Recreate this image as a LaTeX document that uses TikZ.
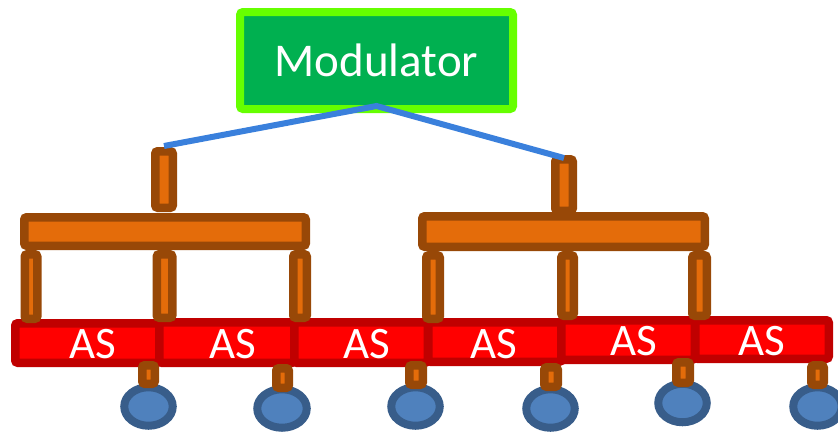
\documentclass[tikz,border=0pt]{standalone}
\usepackage{fontspec}
\setmainfont{Carlito}
\usetikzlibrary{shapes.geometric}

\definecolor{modfill}{HTML}{00B050}
\definecolor{modline}{HTML}{66FF00}
\definecolor{orangefill}{HTML}{E46C0A}
\definecolor{brownline}{HTML}{984807}
\definecolor{asfill}{HTML}{FF0000}
\definecolor{asline}{HTML}{C00000}
\definecolor{wheelfill}{HTML}{4F81BD}
\definecolor{wheelline}{HTML}{385D8A}
\definecolor{linkblue}{HTML}{3A80DC}

\tikzset{
  part/.style={rectangle, draw=brownline, fill=orangefill, line width=8.5pt,
    rounded corners=2.5pt, inner sep=0pt},
  asbox/.style={rectangle, draw=asline, fill=asfill, line width=8.5pt,
    rounded corners=2.5pt, inner sep=0pt},
  wheel/.style={ellipse, draw=wheelline, fill=wheelfill, line width=8pt,
    inner sep=0pt},
  modbox/.style={rectangle, draw=modline, fill=modfill, line width=8pt,
    rounded corners=3pt, inner sep=0pt, text=white,
    font=\fontsize{47}{50}\selectfont},
  aslabel/.style={text=white, inner sep=0pt, font=\fontsize{45}{48}\selectfont},
  link/.style={draw=linkblue, line width=6pt, line join=miter},
}
% piece: style, name, centre x, centre y, outer width, outer height
\newcommand\piece[6]{%
  \node[#1, minimum width=#5pt-8.5pt, minimum height=#6pt-8.5pt] (#2) at (#3,#4) {};}

\begin{document}
\begin{tikzpicture}[x=1pt, y=-1pt]
\useasboundingbox (0,0) rectangle (838,432);

% wheels
\piece{wheel}{e1}{148.5}{406.5}{57}{47}
\piece{wheel}{e2}{282}{408.5}{58}{47}
\piece{wheel}{e3}{415.5}{406.5}{57}{47}
\piece{wheel}{e4}{550.5}{408.5}{57}{47}
\piece{wheel}{e5}{682.5}{403}{57}{47}
\piece{wheel}{e6}{817.5}{406.5}{57}{47}

% AS row
\node[asbox, minimum width=144.5pt, minimum height=39.5pt] (as1) at (87.5,343) {};
\node[asbox, minimum width=135.5pt, minimum height=40.5pt] (as2) at (227,342.5) {};
\node[asbox, minimum width=133.5pt, minimum height=40.5pt] (as3) at (361,342.5) {};
\node[asbox, minimum width=133.5pt, minimum height=39.5pt] (as4) at (495,342) {};
\node[asbox, minimum width=133.5pt, minimum height=39.5pt] (as5) at (628,340) {};
\node[asbox, minimum width=133.5pt, minimum height=38.5pt] (as6) at (762,339.5) {};

\node[aslabel, anchor=base] (t1) at (93,358) {AS};
\node[aslabel, anchor=base] (t2) at (233,358) {AS};
\node[aslabel, anchor=base] (t3) at (367,358) {AS};
\node[aslabel, anchor=base] (t4) at (494,358) {AS};
\node[aslabel, anchor=base] (t5) at (634,355.5) {AS};
\node[aslabel, anchor=base] (t6) at (762,355.5) {AS};

% wheel stubs
\piece{part}{s1}{148.5}{374.5}{21}{27}
\piece{part}{s2}{282.5}{378}{21}{28}
\piece{part}{s3}{416}{375}{22}{28}
\piece{part}{s4}{551}{377}{22}{28}
\piece{part}{s5}{683}{372.5}{22}{29}
\piece{part}{s6}{817.5}{375}{21}{28}

% left tree
\piece{part}{lleg1}{31}{286.5}{21}{73}
\piece{part}{lleg2}{164.5}{286}{24}{72}
\piece{part}{lleg3}{300}{286}{22}{72}
\piece{part}{lbar}{165}{231.5}{290}{37}
\piece{part}{lstub}{164}{179.5}{26}{65}

% right tree
\piece{part}{rleg1}{433}{287}{22}{72}
\piece{part}{rleg2}{567.5}{285.5}{21}{69}
\piece{part}{rleg3}{699.5}{285.5}{23}{69}
\piece{part}{rbar}{563.5}{231.5}{291}{39}
\piece{part}{rstub}{564}{185}{26}{60}

% modulator
\node[modbox, minimum width=273pt, minimum height=97pt] (mod) at (376.5,60.5) {Modulator};

% links
\draw[link] ([yshift=1pt]lstub.north) -- ([yshift=7pt]mod.south) -- ([yshift=-3pt]rstub.north);
\end{tikzpicture}
\end{document}
